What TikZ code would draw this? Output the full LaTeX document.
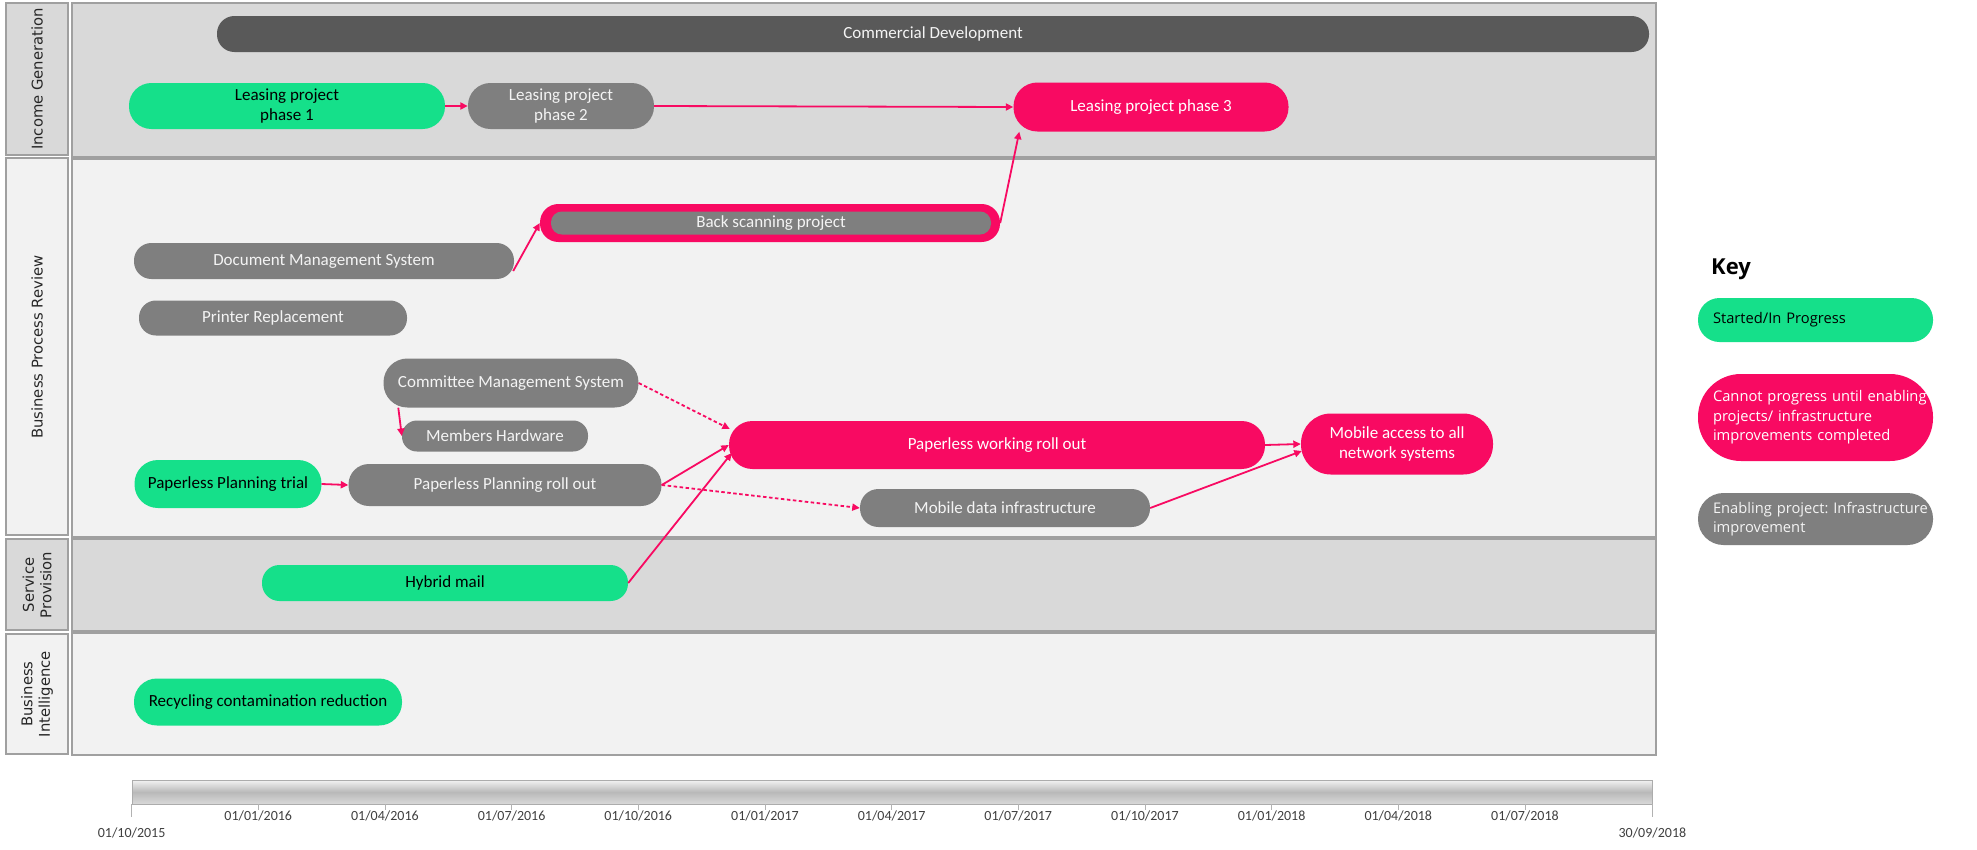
\documentclass[tikz,border=0pt]{standalone}
\usepackage{fontspec}
\setmainfont{Carlito}
\newfontfamily\osans{Open Sans}
\newfontfamily\dsans{DejaVu Sans}
\usetikzlibrary{arrows.meta,calc}
\definecolor{greenc}{HTML}{15E08A}
\definecolor{pinkc}{HTML}{F80A62}
\definecolor{greyc}{HTML}{7F7F7F}
\definecolor{darkc}{HTML}{595959}
\definecolor{laneD}{HTML}{D9D9D9}
\definecolor{laneL}{HTML}{F2F2F2}
\definecolor{lanebd}{HTML}{A0A0A0}
\definecolor{txtw}{HTML}{F4F4F4}
\newcommand\nfnt{\fontsize{17}{20}\selectfont}
\frenchspacing
\tikzset{
  pill/.style 2 args={rectangle, minimum width=#1pt, minimum height=#2pt,
     rounded corners=#2*0.5pt-0.6pt, inner sep=0pt, align=center, font=\nfnt},
  gbox/.style={fill=greenc, text=black},
  pbox/.style={fill=pinkc, text=white},
  ebox/.style={fill=greyc, text=txtw},
  keybox/.style={rectangle, text width=205pt, inner xsep=15pt, inner ysep=0pt,
     minimum width=235pt, align=left, font=\osans\fontsize{14.7}{19.5}\selectfont},
  lanecell/.style={draw=lanebd, line width=1.4pt},
  lanelbl/.style={rotate=90, align=center, font=\dsans\fontsize{14.8}{17.5}\selectfont, text=black!85},
  conn/.style={draw=pinkc, line width=1.8pt, -{Triangle[length=7.5pt,width=7pt]}},
  dconn/.style={conn, dash pattern=on 3.5pt off 2.5pt},
  tickln/.style={draw=gray!60, line width=0.8pt},
  ticklbl/.style={font=\fontsize{14}{16}\selectfont, text=black!75, inner sep=0pt}
}
\begin{document}
\begin{tikzpicture}[x=1pt,y=-1pt]
\useasboundingbox[fill=white] (0,0) rectangle (1977,849);

% lane contents
\draw[lanecell, fill=laneD] (72,3) rectangle (1656,157);
\draw[lanecell, fill=laneL] (72,159) rectangle (1656,537);
\draw[lanecell, fill=laneD] (72,539) rectangle (1656,631);
\draw[lanecell, fill=laneL] (72,633) rectangle (1656,755);
% lane label cells
\draw[lanecell, fill=laneD] (6,3) rectangle (68,155);
\draw[lanecell, fill=laneL] (6,158) rectangle (68,535);
\draw[lanecell, fill=laneD] (6,539) rectangle (68,630);
\draw[lanecell, fill=laneL] (6,634) rectangle (68,754);
\node[lanelbl] (l1) at (37,79) {Income Generation};
\node[lanelbl] (l2) at (37,347) {Business Process Review};
\node[lanelbl] (l3) at (37,585) {Service\\Provision};
\node[lanelbl] (l4) at (37,694) {Business\\Intelligence};

% nodes
\node[pill={1432}{36}, fill=darkc, text=txtw] (cd) at (933,34) {Commercial Development};
\node[pill={316}{46}, gbox] (lp1) at (287,106) {Leasing project\\phase 1};
\node[pill={186}{46}, ebox] (lp2) at (561,106) {Leasing project\\phase 2};
\node[pill={275}{49}, pbox] (lp3) at (1151,107) {Leasing project phase 3};
\node[pill={460}{38}, fill=pinkc] (bspo) at (770,223) {};
\node[pill={440}{23}, ebox] (bsp) at (771,223) {Back scanning project};
\node[pill={380}{36}, ebox] (dms) at (324,261) {Document Management System};
\node[pill={268}{35}, ebox] (pr) at (273,318) {Printer Replacement};
\node[pill={255}{49}, ebox] (cms) at (511,383) {Committee Management System};
\node[pill={186}{31}, ebox] (mh) at (495,436) {Members Hardware};
\node[pill={187}{48}, gbox] (ppt) at (228,484) {Paperless Planning trial};
\node[pill={313}{42}, ebox] (ppr) at (505,485) {Paperless Planning roll out};
\node[pill={536}{48}, pbox] (pwr) at (997,445) {Paperless working roll out};
\node[pill={192}{61}, pbox] (ma) at (1397,444) {Mobile access to all\\network systems};
\node[pill={290}{38}, ebox] (mdi) at (1005,508) {Mobile data infrastructure};
\node[pill={366}{36}, gbox] (hm) at (445,583) {Hybrid mail};
\node[pill={268}{47}, gbox] (rcr) at (268,702) {Recycling contamination reduction};

% connectors
\draw[conn] (lp1.east) -- (lp2.west);
\draw[conn] (lp2.east) -- (lp3.west);
\draw[conn] (bspo.east) -- ($(lp3.south west)+(6,0)$);
\draw[conn] ($(dms.east)+(-1,10)$) -- (bspo.west);
\draw[conn] ($(cms.south west)+(15,0)$) -- (mh.west);
\draw[dconn] (cms.east) -- ($(pwr.west)+(1,-16)$);
\draw[conn] (ppt.east) -- (ppr.west);
\draw[conn] (ppr.east) -- (pwr.west);
\draw[dconn] (ppr.east) -- (mdi.west);
\draw[conn] (hm.east) -- ($(pwr.west)+(3,8)$);
\draw[conn] (pwr.east) -- (ma.west);
\draw[conn] (mdi.east) -- ($(ma.west)+(1,7)$);

% key
\node[font=\osans\bfseries\fontsize{22}{26}\selectfont, anchor=west, inner sep=0pt] (key) at (1711,269) {Key};
\node[keybox, gbox, minimum height=44pt, rounded corners=21.5pt] (k1) at (1815.5,320) {Started/In Progress};
\node[keybox, pbox, minimum height=87pt, rounded corners=43pt] (k2) at (1815.5,417.5) {\mbox{Cannot progress until enabling}\\projects/ infrastructure\\improvements completed};
\node[keybox, ebox, minimum height=52pt, rounded corners=25.5pt] (k3) at (1815.5,519) {\mbox{Enabling project: Infrastructure}\\improvement};

% timeline
\node[draw=gray!65, line width=0.8pt, top color=gray!10, bottom color=gray!30, middle color=gray!55,
      minimum width=1520pt, minimum height=24pt, inner sep=0pt] (bar) at (892,792) {};
\draw[tickln] (bar.south west) -- ++(0,13);
\draw[tickln] (bar.south east) -- ++(0,13);
\foreach \k/\d in {1/{01/01/2016},2/{01/04/2016},3/{01/07/2016},4/{01/10/2016},5/{01/01/2017},6/{01/04/2017},7/{01/07/2017},8/{01/10/2017},9/{01/01/2018},10/{01/04/2018},11/{01/07/2018}}{
  \draw[tickln] ($(bar.south west)+({126.667*\k},0)$) -- ++(0,6);
  \node[ticklbl] (t\k) at ($(bar.south west)+({126.667*\k},12)$) {\d};
}
\node[ticklbl] (tstart) at ($(bar.south west)+(0,29)$) {01/10/2015};
\node[ticklbl] (tend) at ($(bar.south east)+(0,29)$) {30/09/2018};
\end{tikzpicture}
\end{document}
